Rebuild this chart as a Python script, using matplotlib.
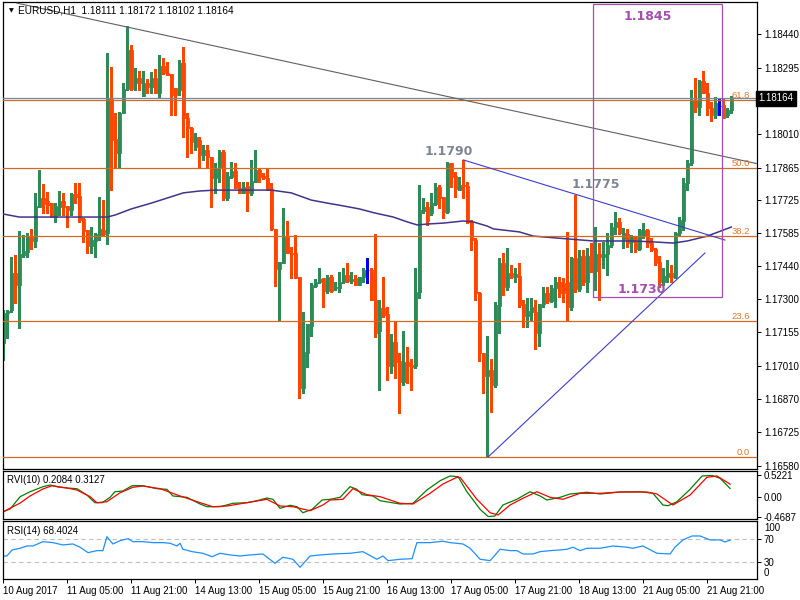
import matplotlib
matplotlib.use('Agg')
import matplotlib.pyplot as plt
import matplotlib.transforms as mtransforms
from matplotlib.patches import Rectangle
import numpy as np

plt.rcParams['font.family'] = ['Liberation Sans', 'DejaVu Sans']

# ---------------- data (EURUSD H1, prices in 1e-5 units) ----------------
open_pts = [117110,117239,117252,117411,117359,117489,117502,117566,117549,117695,
            117734,117721,117712,117652,117695,117721,117700,117682,117751,117743,
            117644,117596,117527,117549,117575,117596,117583,118160,117988,117928,
            118100,118203,118371,118229,118251,118173,118229,118212,118251,118186,
            118302,118272,118268,118208,118199,118315,118078,118035,117954,117984,
            117919,117941,117911,117820,117863,117932,117734,117824,117850,117777,
            117756,117786,117756,117803,117855,117829,117820,117773,117601,117428,
            117454,117566,117497,117497,117394,116916,117067,117183,117355,117372,
            117390,117334,117394,117347,117347,117372,117403,117377,117390,117359,
            117394,117424,117424,117295,117161,117260,117235,117011,117114,117032,
            116942,117028,117015,117011,117329,117678,117695,117669,117708,117781,
            117738,117674,117885,117829,117768,117790,117786,117631,117553,117325,
            117067,116968,116994,116929,117269,117454,117351,117411,117394,117398,
            117278,117226,117243,117243,117153,117278,117325,117291,117347,117372,
            117368,117372,117265,117476,117342,117484,117372,117484,117420,117493,
            117480,117493,117532,117609,117631,117558,117579,117545,117566,117514,
            117570,117596,117540,117514,117459,117372,117394,117411,117394,117583,
            117635,117799,117885,118156,118126,118238,118186,118121,118091,118130,
            118134,118091,118111]
high_pts = [117252,117252,117480,117489,117592,117575,117583,117601,117756,117855,
            117794,117760,117712,117712,117764,117756,117700,117756,117799,117799,
            117648,117596,117609,117583,117738,117725,118358,118298,118100,118104,
            118229,118474,118393,118294,118281,118281,118246,118276,118289,118350,
            118337,118319,118268,118208,118328,118384,118100,118040,118014,117997,
            117962,117962,117911,117885,117941,117941,117846,117889,117885,117803,
            117803,117803,117898,117941,117863,117842,117863,117799,117601,117459,
            117691,117635,117523,117575,117394,117243,117192,117368,117385,117433,
            117390,117403,117403,117372,117415,117433,117454,117415,117403,117394,
            117433,117476,117433,117579,117295,117394,117265,117149,117200,117067,
            117161,117092,117041,117433,117790,117734,117717,117756,117799,117790,
            117738,117889,117885,117846,117824,117898,117803,117639,117562,117329,
            117067,117140,117041,117286,117476,117497,117519,117446,117433,117454,
            117295,117303,117303,117295,117278,117351,117351,117359,117394,117394,
            117390,117588,117480,117747,117510,117510,117519,117540,117609,117540,
            117545,117583,117626,117674,117648,117605,117601,117575,117570,117601,
            117626,117601,117562,117519,117484,117433,117467,117446,117588,117652,
            117820,117898,118199,118251,118242,118281,118229,118147,118169,118164,
            118160,118121,118172]
low_pts = [117037,117131,117243,117282,117174,117480,117480,117514,117523,117695,
           117669,117669,117652,117631,117661,117661,117609,117661,117712,117631,
           117545,117497,117497,117480,117553,117575,117536,117768,117863,117863,
           118100,118199,118199,118199,118199,118173,118186,118186,118186,118164,
           118268,118263,118091,118091,118177,117997,117911,117928,117941,117867,
           117898,117867,117695,117756,117803,117725,117725,117820,117777,117756,
           117756,117678,117747,117803,117803,117816,117768,117596,117355,117209,
           117454,117497,117390,117390,116873,116895,117006,117140,117351,117368,
           117265,117325,117329,117338,117329,117368,117372,117368,117359,117359,
           117372,117368,117295,117136,116907,117222,116951,116981,116959,116808,
           116929,116938,116907,117002,117303,117669,117618,117661,117704,117691,
           117648,117669,117781,117738,117768,117734,117626,117510,117295,117032,
           116895,116619,116813,116920,117153,117316,117338,117390,117372,117265,
           117179,117179,117209,117084,117097,117265,117282,117286,117265,117308,
           117286,117205,117252,117329,117334,117359,117329,117415,117338,117295,
           117433,117403,117523,117579,117579,117519,117523,117502,117502,117510,
           117562,117523,117506,117446,117351,117359,117372,117372,117390,117575,
           117596,117768,117876,118104,118091,118186,118091,118065,118078,118091,
           118078,118083,118102]
close_pts = [117239,117248,117411,117359,117493,117506,117566,117549,117700,117734,
             117708,117704,117652,117700,117721,117695,117682,117751,117738,117639,
             117592,117527,117553,117579,117601,117579,118164,117984,117928,118100,
             118203,118371,118203,118251,118229,118229,118212,118251,118186,118302,
             118272,118263,118177,118177,118315,118078,118035,117975,117997,117919,
             117941,117911,117820,117863,117932,117734,117829,117850,117777,117756,
             117781,117756,117807,117855,117824,117820,117768,117601,117428,117459,
             117566,117497,117493,117390,116916,117071,117192,117359,117372,117385,
             117334,117394,117334,117351,117372,117403,117377,117385,117359,117394,
             117424,117424,117295,117153,117260,117230,117011,117114,117028,116942,
             117028,117011,117006,117329,117682,117695,117635,117712,117781,117734,
             117674,117885,117824,117773,117790,117786,117631,117553,117325,117067,
             116968,116994,116929,117273,117454,117351,117411,117394,117407,117273,
             117226,117248,117265,117153,117278,117325,117291,117347,117372,117325,
             117325,117265,117476,117342,117484,117372,117484,117420,117493,117480,
             117493,117532,117609,117631,117583,117583,117540,117570,117514,117596,
             117596,117540,117510,117454,117372,117398,117411,117394,117583,117639,
             117799,117885,118156,118126,118238,118186,118121,118091,118143,118130,
             118078,118113,118164]

# moving average (knots: bar index, price 1e-5)
ma_idx = [0, 4, 26, 28, 32, 37, 41, 45, 49, 53, 67, 72, 77, 81, 85, 89, 93, 97.5,
          101, 103.5, 106, 110, 115, 117.5, 121, 122.5, 129, 132.5, 141, 147.5,
          157.5, 162.5, 167.5, 171, 176, 182]
ma_pts = [117665, 117652, 117652, 117661, 117687, 117712, 117734, 117756, 117764,
          117768, 117768, 117756, 117725, 117712, 117700, 117687, 117669, 117652,
          117631, 117618, 117622, 117626, 117635, 117631, 117613, 117601, 117588,
          117570, 117558, 117549, 117549, 117545, 117540, 117549, 117570, 117609]

# Fibonacci retracement
fib_low = 1.16619
fib_high = 1.19106
fib_levels = [0.0, 23.6, 38.2, 50.0, 61.8]

current_price = 1.18164

# trend lines (bar index, price)
gray_line_idx = [3.4, 188.4]
gray_line_px = [1.18573, 1.17882]
blue_down_idx = [115, 180.4]
blue_down_px = [1.17898, 1.17553]
blue_up_idx = [121.2, 175.4]
blue_up_px = [1.16619, 1.17497]

# rectangle (bar index range, price range)
rect_idx = [147.4, 179.7]
rect_px = [1.17308, 1.18569]

# price annotations (text, bar index, price, colour)
annotations = [("1.1845", 161.2, 1.18517, '#a24fae'),
               ("1.1730", 159.6, 1.17338, '#a24fae'),
               ("1.1790", 111.4, 1.17933, '#7d8595'),
               ("1.1775", 148.2, 1.17790, '#7d8595')]

price_ticks = [1.18440, 1.18295, 1.18010, 1.17865, 1.17725, 1.17585, 1.17440,
               1.17300, 1.17155, 1.17010, 1.16870, 1.16725, 1.16580]

# RVI (knots)
rvi_idx = [0, 1.7, 4.2, 6.7, 9.9, 11.7, 13.7, 15.9, 18.4, 20.9, 22.9, 24.7, 26.7,
           27.9, 29.9, 32.2, 34.9, 38.4, 40.9, 42.4, 45.9, 49.2, 50.9, 54.2, 57.4,
           60.9, 63.4, 65.9, 67.4, 69.2, 71.7, 73.4, 74.9, 77.2, 79.7, 81.7, 84.2,
           86.7, 88.4, 89.7, 92.4, 94.2, 99.2, 102.4, 105.9, 109.2, 111.7, 113.7,
           115.9, 119.2, 121.2, 122.9, 124.9, 128.4, 131.7, 134.2, 135.9, 139.2,
           141.7, 145.9, 149.2, 154.2, 159.2, 162.4, 164.9, 166.2, 168.4, 171.7,
           174.7, 177.2, 179.2, 181.7]
rvi_main = [-0.353, -0.287, 0.010, 0.130, 0.251, 0.292, 0.244, 0.220, 0.203, 0.051,
            -0.135, -0.135, -0.005, 0.130, 0.147, 0.275, 0.275, 0.203, 0.188, 0.027,
            -0.005, -0.167, -0.232, -0.232, -0.150, -0.135, -0.087, -0.022, -0.053,
            -0.271, -0.198, -0.232, -0.377, -0.295, -0.070, -0.053, -0.005, 0.251,
            0.188, 0.058, 0.027, -0.087, -0.167, -0.150, 0.171, 0.396, 0.510, 0.493,
            0.130, -0.295, -0.4687, -0.457, -0.191, -0.053, 0.130, 0.027, -0.070,
            -0.005, 0.075, 0.116, 0.075, 0.123, 0.130, 0.092, -0.191, -0.208, -0.111,
            0.188, 0.510, 0.5221, 0.454, 0.2084]
rvi_sig_idx = [0, 4.2, 6.7, 9.9, 12.2, 15.9, 18.4, 21.7, 23.4, 25.9, 29.2, 32.4,
               34.9, 39.2, 44.2, 49.2, 52.4, 55.9, 62.4, 65.9, 69.2, 72.4, 76.7,
               79.9, 81.7, 84.9, 87.4, 90.9, 94.2, 99.2, 102.4, 106.7, 109.9, 113.4,
               114.2, 118.4, 121.7, 123.7, 126.7, 129.9, 133.4, 136.7, 139.9, 144.2,
               149.2, 154.2, 160.9, 163.4, 167.4, 171.7, 175.9, 178.4, 181.7]
rvi_signal = [-0.353, -0.143, 0.027, 0.196, 0.275, 0.220, 0.171, 0.010, -0.135,
              -0.111, 0.106, 0.237, 0.268, 0.203, 0.027, -0.135, -0.232, -0.215,
              -0.111, -0.053, -0.215, -0.232, -0.329, -0.191, -0.070, -0.053, 0.203,
              0.058, 0.010, -0.150, -0.167, 0.092, 0.316, 0.478, 0.478, -0.053,
              -0.377, -0.432, -0.191, -0.029, 0.130, -0.005, -0.053, 0.092, 0.092,
              0.123, 0.123, 0.075, -0.191, 0.051, 0.478, 0.510, 0.3127]
rvi_ticks = [0.5221, 0.0, -0.4687]
rvi_tick_labels = ['0.5221', '0.00', '-0.4687']

# RSI (knots)
rsi_idx = [0, 0.9, 2.2, 4.2, 5.9, 7.4, 9.9, 12.4, 14.9, 17.4, 19.2, 21.2, 23.4, 24.9,
           25.9, 27.4, 29.2, 31.2, 32.4, 34.9, 37.4, 39.9, 41.7, 43.4, 44.2, 44.9,
           47.2, 49.9, 52.2, 54.2, 56.7, 59.2, 61.7, 64.9, 67.9, 69.9, 72.4, 74.2,
           76.7, 79.2, 82.4, 86.7, 89.9, 93.4, 94.9, 96.2, 99.2, 102.2, 103.4, 106.7,
           109.9, 111.7, 114.9, 116.7, 119.2, 121.7, 124.2, 126.7, 128.4, 129.9,
           132.4, 134.2, 136.7, 139.2, 140.9, 142.4, 144.2, 145.9, 149.2, 152.4,
           155.9, 157.4, 159.9, 163.4, 166.7, 167.9, 169.9, 172.2, 174.2, 176.7,
           179.2, 180.4, 181.7]
rsi_vals = [41, 41, 51.5, 54.4, 58.4, 58.4, 65.9, 64.2, 60.2, 61.9, 56.2, 46.8, 50.3,
            50.3, 74.6, 61.9, 67.7, 71.1, 65.9, 65.9, 64.2, 64.2, 63.1, 58.4, 63.1,
            52.7, 48.5, 45.7, 39.8, 45.7, 42.8, 41, 42.8, 44.5, 28.3, 38.8, 35.3, 21.4,
            41, 42.8, 44.5, 45.7, 48.5, 35.3, 41, 32.9, 35.3, 36.3, 64.2, 64.2, 66.6,
            64.2, 61.9, 54.4, 35.3, 32.9, 52.7, 50.3, 50.3, 44.5, 44.5, 48.5, 50.3,
            51.5, 52.7, 56.2, 50.3, 54.4, 54.4, 58.4, 56.2, 54.4, 58.4, 45.7, 44.5,
            56.2, 68.9, 75.8, 75.8, 68.9, 68.9, 65.4, 68.4024]

time_labels = ['10 Aug 2017', '11 Aug 05:00', '11 Aug 21:00', '14 Aug 13:00',
               '15 Aug 05:00', '15 Aug 21:00', '16 Aug 13:00', '17 Aug 05:00',
               '17 Aug 21:00', '18 Aug 13:00', '21 Aug 05:00', '21 Aug 21:00']
time_label_bars = [0, 16, 32, 48, 64, 80, 96, 112, 128, 144, 160, 176]

title_text = "EURUSD,H1  1.18111 1.18172 1.18102 1.18164"
rvi_title = "RVI(10) 0.2084 0.3127"
rsi_title = "RSI(14) 68.4024"

# ---------------- figure ----------------
o = np.array(open_pts) / 1e5
h = np.array(high_pts) / 1e5
l = np.array(low_pts) / 1e5
c = np.array(close_pts) / 1e5
xi = np.arange(len(o))

BULL = '#2e8b57'
BEAR = '#ff4500'
DOJI = '#0000ff'
colors = [BULL if cc > oo else (BEAR if cc < oo else DOJI) for oo, cc in zip(o, c)]

fig = plt.figure(figsize=(8, 6), dpi=100)
fig.patch.set_facecolor('white')
XL = (-0.075, 188.425)
ax = fig.add_axes([0.00375, 0.21833, 0.9425, 0.77834])
ax2 = fig.add_axes([0.00375, 0.1345, 0.9425, 0.0800])
ax3 = fig.add_axes([0.00375, 0.035, 0.9425, 0.09667])

FS = 7
for a in (ax, ax2, ax3):
    a.set_xlim(*XL)
    for sp in a.spines.values():
        sp.set_color('black')
        sp.set_linewidth(0.9)
    a.yaxis.tick_right()
    a.tick_params(axis='y', length=3, width=0.7, pad=2, labelsize=FS, colors='black')
ax.set_xticks([])
ax2.set_xticks([])

# main panel
ax.set_ylim(1.165673, 1.185778)
ax.vlines(xi, l, h, colors=colors, linewidth=0.8, antialiased=False, zorder=2)
ax.bar(xi, np.abs(c - o), bottom=np.minimum(o, c), width=0.72, color=colors,
       edgecolor=colors, linewidth=0.6, antialiased=True, zorder=2)

ax.plot(ma_idx, np.array(ma_pts) / 1e5, color='#40348c', lw=1.1, zorder=3)

fib_tr = mtransforms.blended_transform_factory(ax.transAxes, ax.transData)
for lv in fib_levels:
    p = fib_low + (fib_high - fib_low) * lv / 100.0
    ax.axhline(p, color='#d2691e', lw=0.9, zorder=4)
    ax.text(0.9905, p, f'{lv:.1f}', transform=fib_tr, ha='right', va='bottom',
            color='#e0782c', fontsize=6.8, zorder=6)

ax.axhline(current_price, color='#778899', lw=0.9, zorder=4)

ax.plot(gray_line_idx, gray_line_px, color='#606060', lw=0.8, zorder=5)
ax.plot(blue_down_idx, blue_down_px, color='#3c3cd2', lw=0.8, zorder=5)
ax.plot(blue_up_idx, blue_up_px, color='#3c3cd2', lw=0.8, zorder=5)

ax.add_patch(Rectangle((rect_idx[0], rect_px[0]), rect_idx[1] - rect_idx[0],
                       rect_px[1] - rect_px[0], fill=False, edgecolor='#a24fae',
                       lw=0.9, zorder=5))
for txt, bi, pr, col in annotations:
    ax.text(bi, pr, txt, color=col, fontsize=9, fontweight='bold',
            family='DejaVu Sans', ha='center', va='center', zorder=6)

ax.set_yticks(price_ticks)
ax.set_yticklabels([f'{v:.5f}' for v in price_ticks])
ax.text(1.002, current_price, f'{current_price:.5f}', transform=fib_tr,
        ha='left', va='center', color='white', fontsize=FS, clip_on=False,
        bbox=dict(boxstyle='square,pad=0.25', fc='black', ec='black'), zorder=10)

ax.text(0.0075, 0.981, '\u25BC', transform=ax.transAxes, fontsize=4.5,
        family='DejaVu Sans', ha='left', va='center', color='black')
ax.text(0.0199, 0.981, title_text, transform=ax.transAxes, fontsize=7.2,
        ha='left', va='center', color='black', zorder=7)

# RVI panel
ax2.set_ylim(-0.536, 0.623)
ax2.plot(rvi_idx, rvi_main, color='#008000', lw=0.9)
ax2.plot(rvi_sig_idx, rvi_signal, color='#ff0000', lw=0.9)
ax2.set_yticks(rvi_ticks)
ax2.set_yticklabels(rvi_tick_labels)
ax2.text(0.0053, 0.82, rvi_title, transform=ax2.transAxes, fontsize=FS,
         ha='left', va='center', color='black')

# RSI panel
ax3.set_ylim(1.0, 101.8)
for lv in (70, 30):
    ax3.axhline(lv, color='#c0c0c0', lw=0.8, ls=(0, (4, 3)))
ax3.plot(rsi_idx, rsi_vals, color='#1e90ff', lw=0.9)
ax3.set_yticks([70, 30])
ax3.set_yticklabels(['70', '30'])
off = mtransforms.offset_copy(ax3.transAxes, fig=fig, x=5, y=0, units='points')
ax3.text(1.0, 0.879, '100', transform=off, fontsize=FS, ha='left', va='center')
ax3.text(1.0, 0.103, '0', transform=off, fontsize=FS, ha='left', va='center')
ax3.text(0.0053, 0.828, rsi_title, transform=ax3.transAxes, fontsize=FS,
         ha='left', va='center', color='black')

ax3.set_xticks(time_label_bars)
ax3.set_xticklabels(time_labels)
ax3.tick_params(axis='x', length=3, width=0.7, pad=2, labelsize=FS)
for lbl in ax3.get_xticklabels():
    lbl.set_ha('left')

fig.savefig('out.png', dpi=100)
